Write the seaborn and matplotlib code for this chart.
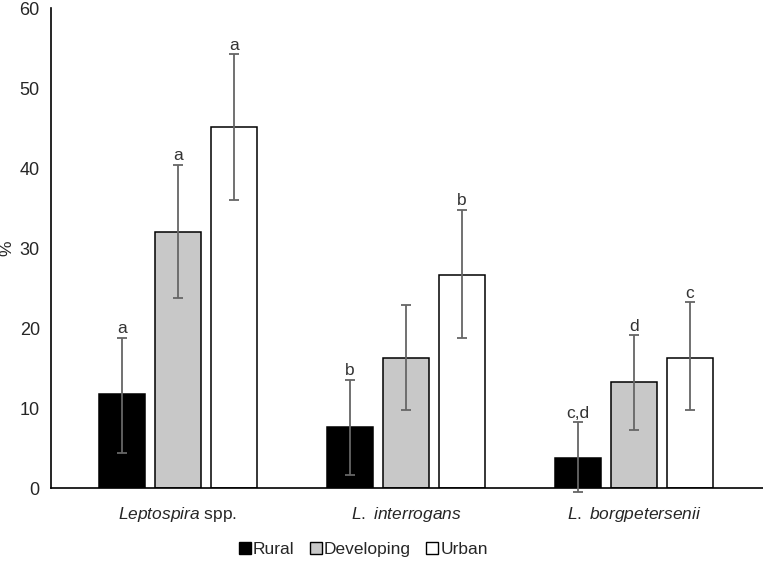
import matplotlib
matplotlib.use("Agg")
import matplotlib.pyplot as plt
import seaborn as sns
import pandas as pd
from matplotlib.lines import Line2D

categories = [r"$\mathit{Leptospira}$ spp.", r"$\mathit{L.}$ $\mathit{interrogans}$", r"$\mathit{L.}$ $\mathit{borgpetersenii}$"]
groups = ["Rural", "Developing", "Urban"]
rural = [11.7, 7.6, 3.8]
developing = [32.0, 16.3, 13.2]
urban = [45.1, 26.6, 16.3]
rural_lo = [4.4, 1.6, -0.5]
rural_hi = [18.8, 13.5, 8.2]
developing_lo = [23.8, 9.8, 7.3]
developing_hi = [40.4, 22.9, 19.1]
urban_lo = [36.0, 18.8, 9.8]
urban_hi = [54.2, 34.8, 23.2]
rural_letters = ["a", "b", "c,d"]
developing_letters = ["a", "", "d"]
urban_letters = ["a", "b", "c"]

sns.set_style("white")
plt.rcParams["font.family"] = ["Liberation Sans", "DejaVu Sans"]
plt.rcParams["mathtext.fontset"] = "custom"
plt.rcParams["mathtext.it"] = "Liberation Sans:italic"
plt.rcParams["mathtext.rm"] = "Liberation Sans"

rows = []
for g, vals in zip(groups, [rural, developing, urban]):
    for c, v in zip(categories, vals):
        rows.append({"cat": c, "group": g, "value": v})
df = pd.DataFrame(rows)

colors = {"Rural": "#000000", "Developing": "#c8c8c8", "Urban": "#ffffff"}

fig = plt.figure(figsize=(7.63, 5.61), dpi=100)
ax = fig.add_axes([0.0668, 0.130, 0.9332, 0.8557])
sns.barplot(data=df, x="cat", y="value", hue="group", order=categories,
            hue_order=groups, palette=colors, width=0.735, gap=0.18,
            edgecolor="black", linewidth=1.1, errorbar=None, ax=ax, legend=False)

lows = [rural_lo, developing_lo, urban_lo]
highs = [rural_hi, developing_hi, urban_hi]
vals_all = [rural, developing, urban]
letters = [rural_letters, developing_letters, urban_letters]
bar_containers = list(ax.containers)
for i, cont in enumerate(bar_containers):
    for j, p in enumerate(cont.patches):
        xc = p.get_x() + p.get_width() / 2
        v = vals_all[i][j]
        lo, hi = lows[i][j], highs[i][j]
        ax.errorbar([xc], [v], yerr=[[v - lo], [hi - v]], fmt="none",
                    ecolor="#666666", elinewidth=1.3, capsize=3.6,
                    capthick=1.3, clip_on=False, zorder=5)
        if letters[i][j]:
            ax.text(xc, hi + 0.2, letters[i][j], ha="center", va="bottom",
                    fontsize=12.5, color="#333333")

ax.set_ylim(0, 60)
ax.set_yticks(range(0, 61, 10))
ax.set_xlim(-0.557, 2.565)
ax.set_xlabel("")
ax.set_ylabel("%", fontsize=12.5)
ax.yaxis.set_label_coords(-0.051, 0.5)
ax.tick_params(axis="y", labelsize=13, length=0, pad=8)
ax.tick_params(axis="x", labelsize=12.5, length=0, pad=12)
for s in ["top", "right"]:
    ax.spines[s].set_visible(False)
for s in ["left", "bottom"]:
    ax.spines[s].set_color("black")
    ax.spines[s].set_linewidth(1.2)

handles = [Line2D([0], [0], marker="s", linestyle="none", markersize=9,
                  markerfacecolor=colors[g], markeredgecolor="black",
                  markeredgewidth=1.0) for g in groups]
fig.legend(handles, groups, loc="center", bbox_to_anchor=(0.476, 0.021),
           ncol=3, frameon=False, fontsize=12.5, handlelength=0.7,
           handletextpad=0.1, columnspacing=0.9)

fig.savefig("out.png", dpi=100)
